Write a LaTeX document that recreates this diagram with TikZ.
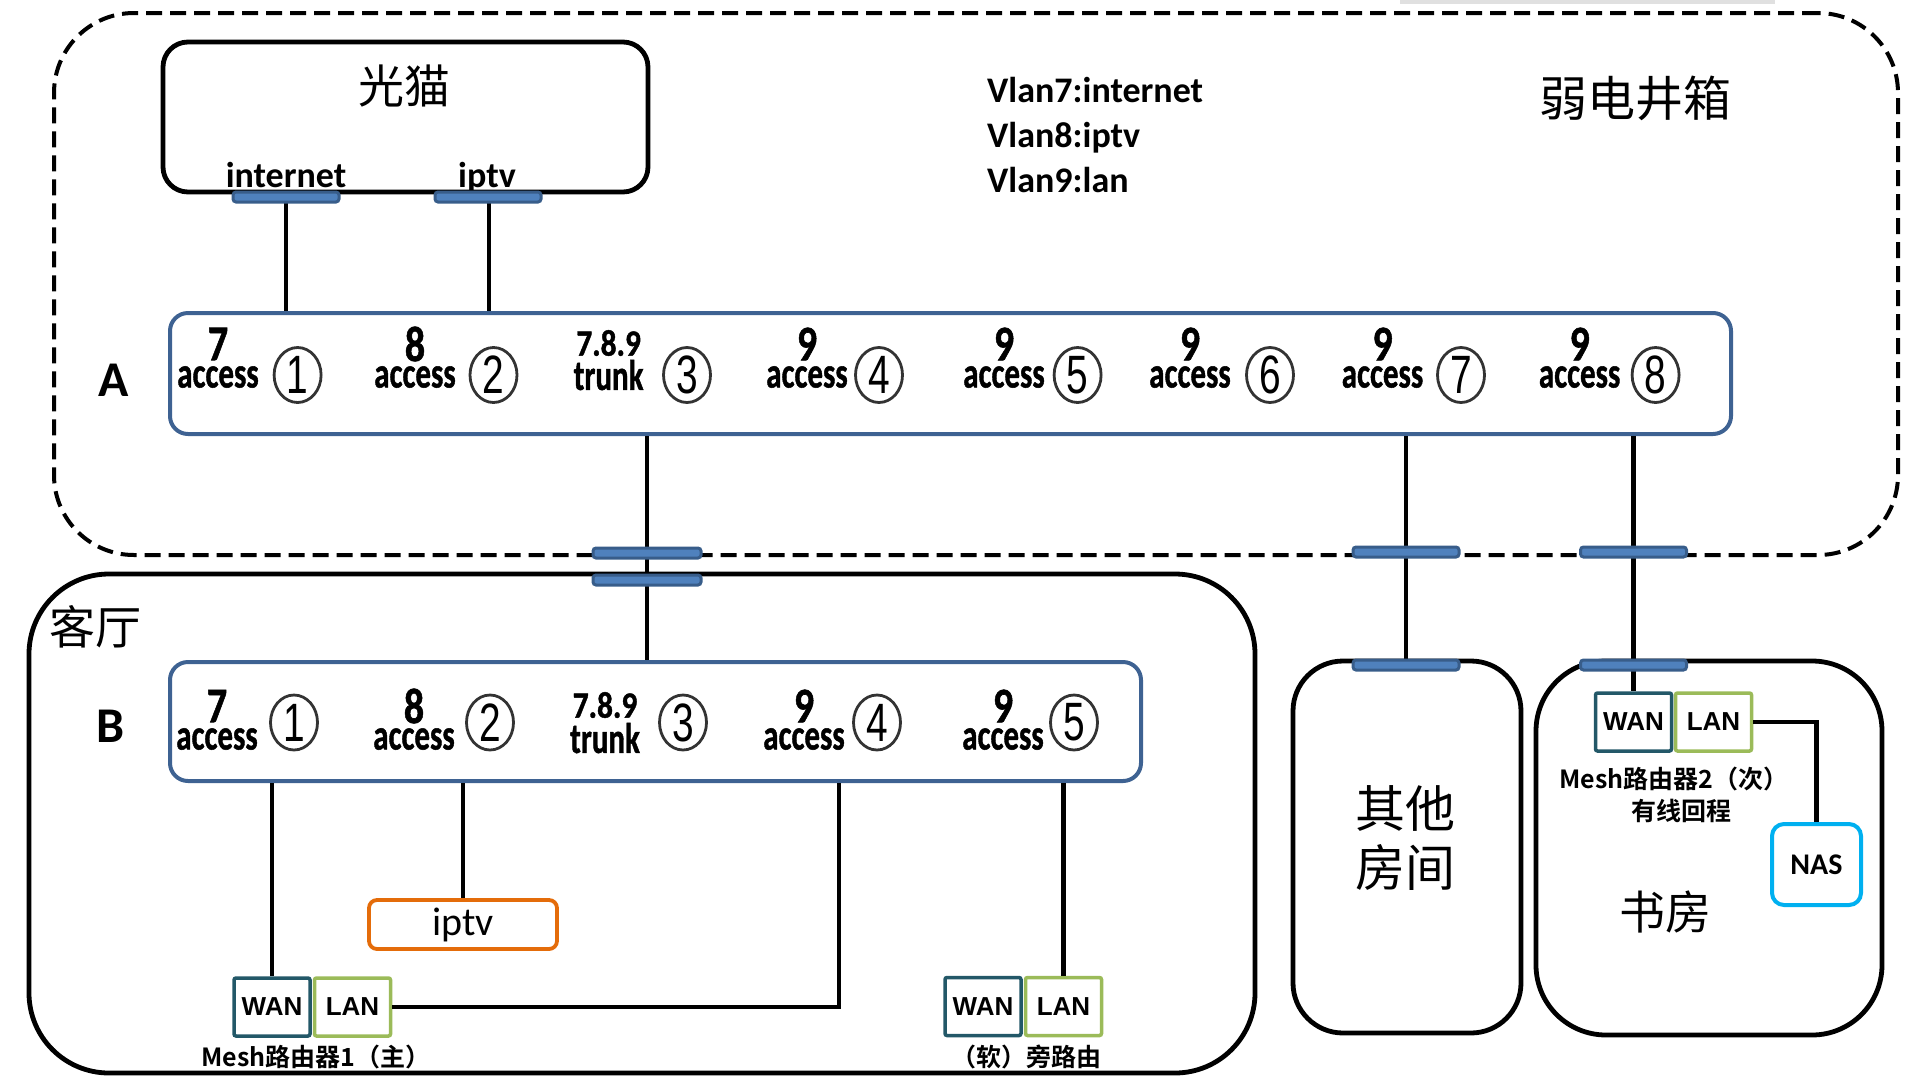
\documentclass[tikz,border=0pt]{standalone}
\usepackage{graphicx}
\usepackage{fontspec}
\setmainfont{Carlito}
\newfontfamily\portf{Carlito}[FakeBold=1.2]
\newfontfamily\cjk{Noto Sans CJK SC}[BoldFont={Noto Sans CJK SC Bold}]
\newfontfamily\arialf{Liberation Sans}
\usetikzlibrary{shapes.geometric}
\definecolor{swblue}{RGB}{62,98,146}
\definecolor{barfill}{RGB}{79,129,189}
\definecolor{bardraw}{RGB}{56,93,138}
\definecolor{wanc}{RGB}{35,88,104}
\definecolor{lanc}{RGB}{155,187,89}
\definecolor{iptvc}{RGB}{228,108,10}
\definecolor{nasc}{RGB}{0,176,240}
\begin{document}
\begin{tikzpicture}[x=1pt,y=-1pt,
  wire/.style={line width=4.6pt},
  room/.style={draw, line width=4.8pt, inner sep=0},
  sw/.style={draw=swblue, line width=4pt, rounded corners=18pt, inner sep=0},
  pbar/.style={draw=bardraw, fill=barfill, line width=3pt, rounded corners=3pt, minimum width=106pt, minimum height=10pt, inner sep=0},
  rport/.style={draw, line width=3.5pt, rounded corners=2pt, minimum width=76pt, minimum height=58pt, inner sep=0, font=\arialf\bfseries\fontsize{26}{26}\selectfont},
  wanbox/.style={rport, draw=wanc},
  lanbox/.style={rport, draw=lanc},
  bigcjk/.style={inner sep=0, font=\cjk\fontsize{46}{46}\selectfont},
  smallcjk/.style={inner sep=0, font=\cjk\bfseries\fontsize{25}{25}\selectfont},
  numtxt/.style={inner sep=0, font=\portf\bfseries\fontsize{50}{50}\selectfont},
  trunknum/.style={inner sep=0, font=\portf\bfseries\fontsize{37}{37}\selectfont},
  acctxt/.style={inner sep=0, font=\portf\bfseries\fontsize{43}{43}\selectfont},
  pcirc/.style={ellipse, draw=black!80, line width=2.8pt, minimum width=47pt, minimum height=55pt, inner sep=0, font=\arialf\fontsize{54}{54}\selectfont},
  lbl/.style={inner sep=0, font=\bfseries\fontsize{36}{36}\selectfont}
]
\useasboundingbox (0,0) rectangle (1920,1080);
\fill[black!12] (1400,0) rectangle (1775,4);

% weak-current box
\node[draw, line width=4pt, dash pattern=on 16pt off 8pt, rounded corners=80pt, minimum width=1844pt, minimum height=542pt, inner sep=0] (ruo) at (976,284) {};
\node[bigcjk, font=\cjk\fontsize{48}{48}\selectfont] (ruot) at (1635,98) {弱电井箱};
\node[lbl, anchor=base west] (v7) at (987,102) {Vlan7:internet};
\node[lbl, anchor=base west] (v8) at (987,147) {Vlan8:iptv};
\node[lbl, anchor=base west] (v9) at (987,192) {Vlan9:lan};

% modem
\node[room, rounded corners=25pt, minimum width=485pt, minimum height=150pt] (modem) at (405.5,117) {};
\node[bigcjk] (modemt) at (404,86) {光猫};
\node[lbl, anchor=base] (inet) at (286,187) {internet};
\node[lbl, anchor=base] (iptvl) at (487,187) {iptv};

% switch A
\node[sw, minimum width=1561pt, minimum height=121pt] (swA) at (950.5,373.5) {};
\node[inner sep=0, font=\bfseries\fontsize{50}{50}\selectfont] (Alab) at (114,380) {A};
\foreach \cx/\lx/\n/\i in {297.6/218/7/1, 493.5/415/8/2, 879/807/9/4, 1077.6/1004/9/5, 1270/1190/9/6, 1461/1382.5/9/7, 1655.6/1579.6/9/8}{
  \node[pcirc] (Ac\i) at (\cx,375) {\scalebox{0.72}[1]{\i}};
  \node[numtxt] (An\i) at (\lx,344) {\scalebox{0.8}[1]{\n}};
  \node[acctxt] (Aw\i) at (\lx,377) {\scalebox{0.72}[1]{access}};
}
\node[pcirc] (Ac3) at (687,375) {\scalebox{0.72}[1]{3}};
\node[trunknum] (An3) at (608.6,343) {\scalebox{0.85}[1]{7.8.9}};
\node[acctxt] (Aw3) at (608.6,375) {\scalebox{0.72}[1]{trunk}};

% living room
\node[room, rounded corners=80pt, minimum width=1226pt, minimum height=499pt] (keting) at (642,823.5) {};
\node[bigcjk] (ketingt) at (95,627) {客厅};

% switch B
\node[sw, minimum width=971pt, minimum height=119pt] (swB) at (655.5,721.5) {};
\node[inner sep=0, font=\bfseries\fontsize{50}{50}\selectfont] (Blab) at (111,726) {B};
\foreach \cx/\lx/\n/\i in {294/217/7/1, 490/414/8/2, 877/804/9/4, 1074/1003/9/5}{
  \node[pcirc] (Bc\i) at (\cx,722.5) {\scalebox{0.72}[1]{\i}};
  \node[numtxt] (Bn\i) at (\lx,706) {\scalebox{0.8}[1]{\n}};
  \node[acctxt] (Bw\i) at (\lx,739) {\scalebox{0.72}[1]{access}};
}
\node[pcirc] (Bc3) at (683,722.5) {\scalebox{0.72}[1]{3}};
\node[trunknum] (Bn3) at (605,705) {\scalebox{0.85}[1]{7.8.9}};
\node[acctxt] (Bw3) at (605,738) {\scalebox{0.72}[1]{trunk}};

% other rooms
\node[room, rounded corners=50pt, minimum width=228pt, minimum height=372pt] (other) at (1407,847) {};
\node[bigcjk, font=\cjk\fontsize{50}{50}\selectfont] (othert1) at (1405,808) {其他};
\node[bigcjk, font=\cjk\fontsize{50}{50}\selectfont] (othert2) at (1405,867) {房间};
\node[room, rounded corners=70pt, minimum width=346pt, minimum height=374pt] (study) at (1709,848) {};
\node[bigcjk] (studyt) at (1665,912) {书房};

% devices
\node[draw=iptvc, line width=3.8pt, rounded corners=8pt, minimum width=188pt, minimum height=49pt, inner sep=0, font=\fontsize{40}{40}\selectfont] (iptvbox) at (463,924.5) {iptv};
\node[wanbox] (wan1) at (272,1007) {WAN};
\node[lanbox] (lan1) at (352.5,1007) {LAN};
\node[smallcjk] (m1t) at (316,1057) {Mesh路由器1（主）};
\node[wanbox] (wan2) at (983,1006.5) {WAN};
\node[lanbox] (lan2) at (1063.5,1006.5) {LAN};
\node[smallcjk] (m2t) at (1026,1057) {（软）旁路由};
\node[wanbox] (wan3) at (1633.5,722) {WAN};
\node[lanbox] (lan3) at (1713.5,722) {LAN};
\node[smallcjk] (m3t) at (1674,779) {Mesh路由器2（次）};
\node[smallcjk] (m3t2) at (1681,811) {有线回程};
\node[draw=nasc, line width=4pt, rounded corners=12pt, minimum width=89pt, minimum height=81pt, inner sep=0, font=\bfseries\fontsize{30}{30}\selectfont] (nas) at (1816.5,864.5) {NAS};

% coordinates for wire positions
\coordinate (xa1) at (286,0);
\coordinate (xa2) at (489,0);
\coordinate (xa3) at (647,0);
\coordinate (xa7) at (1406,0);
\coordinate (xa8) at (1633.5,0);
\coordinate (xb4) at (839,0);

% wires
\draw[wire] (modem.south -| xa1) -- (swA.north -| xa1);
\draw[wire] (modem.south -| xa2) -- (swA.north -| xa2);
\draw[wire] (swA.south -| xa3) -- (swB.north -| xa3);
\draw[wire] (swA.south -| xa7) -- (other.north -| xa7);
\draw[wire] (swA.south -| xa8) -- (wan3.north);
\draw[wire] (swB.south -| wan1.north) -- (wan1.north);
\draw[wire] (swB.south -| iptvbox.north) -- (iptvbox.north);
\draw[wire] (swB.south -| xb4) |- (lan1.east);
\draw[wire] (swB.south -| lan2.north) -- (lan2.north);
\draw[wire] (lan3.east) -| (nas.north);

% port bars
\node[pbar] (b1) at (286,197) {};
\node[pbar] (b2) at (488,197) {};
\node[pbar, minimum width=108pt] (b3) at (647,553) {};
\node[pbar, minimum width=108pt] (b4) at (647,580) {};
\node[pbar] (b5) at (1406,552) {};
\node[pbar] (b6) at (1633.5,552) {};
\node[pbar] (b7) at (1406,665) {};
\node[pbar] (b8) at (1633.5,665) {};
\end{tikzpicture}
\end{document}
